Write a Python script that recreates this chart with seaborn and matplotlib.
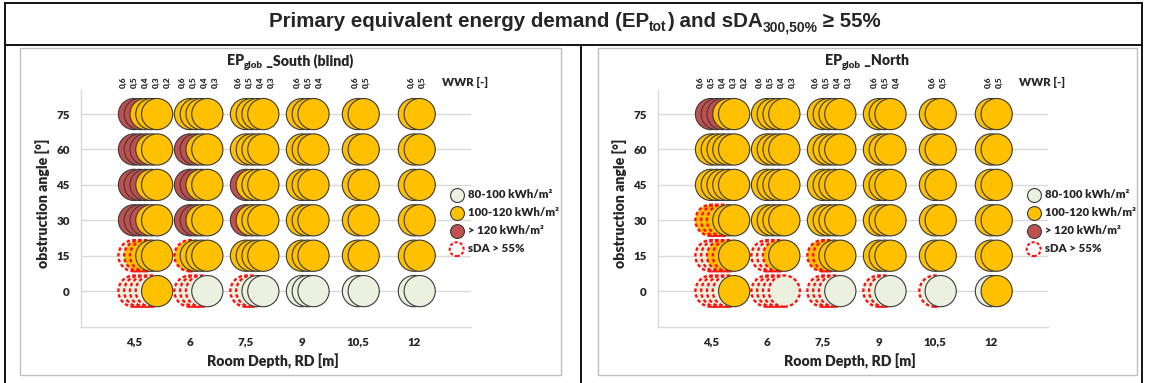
import numpy as np
import pandas as pd
import matplotlib
matplotlib.use("Agg")
import matplotlib.pyplot as plt
import matplotlib.transforms as mtransforms
from matplotlib.lines import Line2D
from matplotlib.patches import Rectangle
import seaborn as sns

# ---------------- data ----------------
room_depths = [4.5, 6, 7.5, 9, 10.5, 12]
depth_labels = ["4,5", "6", "7,5", "9", "10,5", "12"]
wwr_per_depth = [[0.6, 0.5, 0.4, 0.3, 0.2],
                 [0.6, 0.5, 0.4, 0.3],
                 [0.6, 0.5, 0.4, 0.3],
                 [0.6, 0.5, 0.4],
                 [0.6, 0.5],
                 [0.6, 0.5]]
angles = [75, 60, 45, 30, 15, 0]

# EP class per circle: L = 80-100, Y = 100-120, R = >120 kWh/m2 (rows follow `angles`)
south_ep = ["RRYYY YYYY YYYY YYY YY YY",
            "RRRYY RRYY YYYY YYY YY YY",
            "RRRYY RRYY RYYY YYY YY YY",
            "RRRYY RRYY RYYY YYY YY YY",
            "LYYYY YYYY YYYY YYY YY YY",
            "LLLLY LLLL LLLL LLL LL LL"]
south_sda = ["00000 0000 0000 000 00 00",
             "00000 0000 0000 000 00 00",
             "00000 0000 0000 000 00 00",
             "00000 0000 0000 000 00 00",
             "11100 1000 0000 000 00 00",
             "11110 1110 1100 000 00 00"]
north_ep = ["RRRYY YYYY YYYY YYY YY YY",
            "YYYYY YYYY YYYY YYY YY YY",
            "YYYYY YYYY YYYY YYY YY YY",
            "YYYYY YYYY YYYY YYY YY YY",
            "LLYYY LLYY YYYY YYY YY YY",
            "LLLLY LLLL LLLL LLL LL LY"]
north_sda = ["00000 0000 0000 000 00 00",
             "00000 0000 0000 000 00 00",
             "00000 0000 0000 000 00 00",
             "11100 0000 0000 000 00 00",
             "11110 1110 1100 000 00 00",
             "11110 1111 1110 110 10 00"]

class_codes = ["L", "Y", "R"]
class_labels = ["80-100 kWh/m²", "100-120 kWh/m²", "> 120 kWh/m²"]
sda_label = "sDA > 55%"

# ---------------- style ----------------
W, H = 1149, 383
sns.set_style("white")
FAM = ["Lato", "DejaVu Sans"]
plt.rcParams["font.family"] = FAM
WT = "heavy"

C_LIGHT, C_YEL, C_RED = "#EBF0DF", "#FFC000", "#C0504D"
palette = {"L": C_LIGHT, "Y": C_YEL, "R": C_RED}
EDGE = "#3A3A3A"
DASH_RED = "#FF1010"
GRID = "#D9D9D9"
STEP = 0.155          # horizontal shift between WWR circles (m)
LAB_STEP = 0.295      # spacing between WWR labels (m)
DASH = (0, (1.5, 1.0))

fig = plt.figure(figsize=(W / 100, H / 100), dpi=100)


def fx(px):
    return px / W


def fy(py):
    return 1 - py / H


def build(ep_rows, sda_rows):
    recs = []
    for ai, ang in enumerate(angles):
        eps = ep_rows[ai].split()
        sds = sda_rows[ai].split()
        for gi, rd in enumerate(room_depths):
            for k, w in enumerate(wwr_per_depth[gi]):
                recs.append(dict(rd=rd, wwr=w, k=k, angle=ang,
                                 ep=eps[gi][k], sda=sds[gi][k] == "1"))
    df = pd.DataFrame(recs)
    df["x"] = df["rd"] + df["k"] * STEP
    return df


def draw_runs(xc_px, base_px, runs, family, weight):
    r = fig.canvas.get_renderer()
    items = []
    for s, size, dy in runs:
        t = fig.text(0, 0, s, fontsize=size, fontweight=weight, family=family,
                     va="baseline", ha="left")
        w = t.get_window_extent(renderer=r).width
        items.append((t, w, dy))
    total = sum(w for _, w, _ in items)
    x = xc_px - total / 2
    for t, w, dy in items:
        t.set_position((x / W, 1 - (base_px + dy) / H))
        x += w


# ---------------- table frame ----------------
def fline(x0, y0, x1, y1, color="black", lw=1.3):
    fig.add_artist(Line2D([fx(x0), fx(x1)], [fy(y0), fy(y1)], color=color, lw=lw))


fline(5, 3, 1142, 3)
fline(5, 3, 5, 383)
fline(1142, 3, 1142, 383)
fline(5, 45, 1142, 45)
fline(581, 45, 581, 383)

for bx0, bx1 in [(20, 561), (598, 1137)]:
    fig.add_artist(Rectangle((fx(bx0), fy(375)), fx(bx1) - fx(bx0), fy(48) - fy(375),
                             transform=fig.transFigure, fill=False,
                             edgecolor="#BFBFBF", lw=1.0))

draw_runs(575, 27, [("Primary equivalent energy demand (EP", 14.8, 0),
                    ("tot", 10, 4),
                    (") and sDA", 14.8, 0),
                    ("300,50%", 10, 4),
                    (" ≥ 55%", 14.8, 0)], ["Liberation Sans", "DejaVu Sans"], "bold")

# ---------------- panels ----------------
panels = [
    (81, 290, "_South (blind)", south_ep, south_sda),
    (658, 867, "_North", north_ep, north_sda),
]

for left_px, title_x, title_txt, ep_rows, sda_rows in panels:
    df = build(ep_rows, sda_rows)
    ax = fig.add_axes([fx(left_px), fy(327), 390 / W, 237 / H])
    ax.set_axisbelow(True)
    sns.scatterplot(data=df, x="x", y="angle", hue="ep", hue_order=class_codes,
                    palette=palette, s=505, legend=False, ax=ax,
                    edgecolor=EDGE, linewidth=0.8, zorder=3)
    coll = ax.collections[-1]
    sda = df["sda"].to_numpy()
    coll.set_edgecolor([DASH_RED if f else EDGE for f in sda])
    coll.set_linewidth([1.7 if f else 0.8 for f in sda])
    coll.set_linestyle([DASH if f else "solid" for f in sda])

    ax.set_xlim(3.08, 13.53)
    ax.set_ylim(-15.2, 85.2)
    ax.set_xticks(room_depths)
    ax.set_xticklabels(depth_labels)
    ax.set_yticks(angles)
    ax.set_yticklabels([str(a) for a in angles])
    ax.grid(axis="y", color=GRID, lw=1.0)
    ax.grid(axis="x", visible=False)
    for sp in ["top", "right"]:
        ax.spines[sp].set_visible(False)
    for sp in ["left", "bottom"]:
        ax.spines[sp].set_color(GRID)
        ax.spines[sp].set_linewidth(1.0)
    ax.tick_params(axis="x", length=0, pad=7, labelsize=8.3)
    ax.tick_params(axis="y", length=3, color=GRID, pad=5, labelsize=8.3)
    for lab in ax.get_xticklabels() + ax.get_yticklabels():
        lab.set_fontweight(WT)
    ax.set_xlabel("Room Depth, RD [m]", fontsize=10.2, fontweight=WT)
    ax.xaxis.set_label_coords(0.492, -0.11)
    ax.set_ylabel("obstruction angle [°]", fontsize=10.2, fontweight=WT)
    ax.yaxis.set_label_coords(-0.08, 0.52)

    # WWR labels above each group
    btr = mtransforms.blended_transform_factory(ax.transData, ax.transAxes)
    for rd, wwrs in zip(room_depths, wwr_per_depth):
        n = len(wwrs)
        center = rd + (n - 1) / 2 * STEP
        for k, w in enumerate(wwrs):
            ax.text(center + (k - (n - 1) / 2) * LAB_STEP, 1.032,
                    f"{w:.1f}".replace(".", ","), rotation=90, fontsize=6,
                    fontweight=WT, ha="center", va="center",
                    transform=btr, clip_on=False)
    ax.text(13.37, 1.032, "WWR [-]", fontsize=8.2, fontweight=WT,
            ha="center", va="center", transform=btr, clip_on=False)

    # legend
    handles = []
    for code in class_codes:
        handles.append(ax.scatter([], [], s=100, facecolor=palette[code],
                                  edgecolor=EDGE, linewidth=0.8))
    handles.append(ax.scatter([], [], s=100, facecolor="white", edgecolor=DASH_RED,
                              linewidth=1.5, linestyle=DASH))
    ax.legend(handles, class_labels + [sda_label], loc="upper left",
              bbox_to_anchor=(fx(left_px + 370), fy(189)),
              bbox_transform=fig.transFigure, frameon=False,
              prop={"family": FAM, "weight": WT, "size": 8.2},
              handlelength=1.0, handletextpad=0.45, labelspacing=0.62,
              borderpad=0, borderaxespad=0, scatterpoints=1)

    draw_runs(title_x, 65, [("EP", 10.2, 0), ("glob", 7, 3), (" " + title_txt, 10.2, 0)],
              FAM, WT)

fig.savefig("out.png", dpi=100)
